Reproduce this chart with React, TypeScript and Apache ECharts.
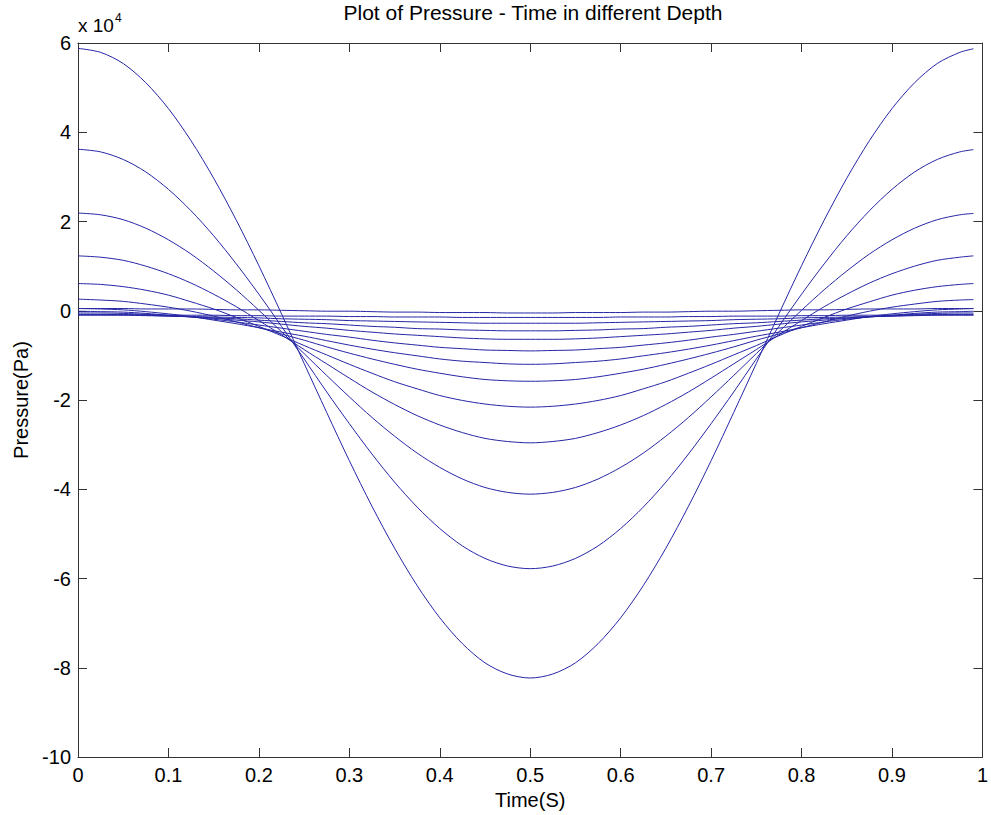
import React, { useEffect, useRef } from "react";
import * as echarts from "echarts";

// Time (s)
const TIME = [
  0, 0.025, 0.05, 0.075, 0.1, 0.125, 0.15, 0.175, 0.2, 0.225, 0.25, 0.275, 0.3, 0.325, 0.35, 0.375, 0.4, 0.425, 0.45, 0.475, 0.5,
  0.525, 0.55, 0.575, 0.6, 0.625, 0.65, 0.675, 0.7, 0.725, 0.75, 0.775, 0.8, 0.825, 0.85, 0.875, 0.9, 0.925, 0.95, 0.975, 0.99,
];

// Pressure in units of 1e4 Pa, one array per depth (shallow -> deep)
const P_DEPTH_1 = [
  5.88, 5.79, 5.54, 5.11, 4.53, 3.81, 2.97, 2.03, 1.01, -0.07, -1.18, -2.28, -3.36, -4.38, -5.32, -6.16, -6.88, -7.46, -7.89, -8.14, -8.23,
  -8.14, -7.89, -7.46, -6.88, -6.16, -5.32, -4.38, -3.36, -2.28, -1.18, -0.07, 1.01, 2.03, 2.97, 3.81, 4.53, 5.11, 5.54, 5.79, 5.87,
];
const P_DEPTH_2 = [
  3.62, 3.56, 3.39, 3.11, 2.72, 2.24, 1.68, 1.05, 0.37, -0.35, -1.08, -1.82, -2.53, -3.21, -3.84, -4.4, -4.88, -5.27, -5.55, -5.72, -5.78,
  -5.72, -5.55, -5.27, -4.88, -4.4, -3.84, -3.21, -2.53, -1.82, -1.08, -0.35, 0.37, 1.05, 1.68, 2.24, 2.72, 3.11, 3.39, 3.56, 3.61,
];
const P_DEPTH_3 = [
  2.19, 2.15, 2.04, 1.85, 1.59, 1.27, 0.89, 0.47, 0.01, -0.47, -0.96, -1.45, -1.93, -2.39, -2.81, -3.19, -3.51, -3.77, -3.96, -4.07, -4.11,
  -4.07, -3.96, -3.77, -3.51, -3.19, -2.81, -2.39, -1.93, -1.45, -0.96, -0.47, 0.01, 0.47, 0.89, 1.27, 1.59, 1.85, 2.04, 2.15, 2.18,
];
const P_DEPTH_4 = [
  1.23, 1.2, 1.13, 1.0, 0.83, 0.62, 0.37, 0.09, -0.22, -0.54, -0.87, -1.19, -1.51, -1.82, -2.1, -2.35, -2.56, -2.73, -2.86, -2.93, -2.96,
  -2.93, -2.86, -2.73, -2.56, -2.35, -2.1, -1.82, -1.51, -1.19, -0.87, -0.54, -0.22, 0.09, 0.37, 0.62, 0.83, 1.0, 1.13, 1.2, 1.23,
];
const P_DEPTH_5 = [
  0.61, 0.59, 0.54, 0.46, 0.35, 0.2, 0.04, -0.15, -0.35, -0.56, -0.78, -0.99, -1.2, -1.4, -1.59, -1.75, -1.9, -2.01, -2.09, -2.14, -2.16,
  -2.14, -2.09, -2.01, -1.9, -1.75, -1.59, -1.4, -1.2, -0.99, -0.78, -0.56, -0.35, -0.15, 0.04, 0.2, 0.35, 0.46, 0.54, 0.59, 0.61,
];
const P_DEPTH_6 = [
  0.26, 0.24, 0.21, 0.15, 0.08, -0.01, -0.12, -0.25, -0.38, -0.52, -0.66, -0.81, -0.95, -1.08, -1.2, -1.31, -1.4, -1.48, -1.54, -1.57, -1.58,
  -1.57, -1.54, -1.48, -1.4, -1.31, -1.2, -1.08, -0.95, -0.81, -0.66, -0.52, -0.38, -0.25, -0.12, -0.01, 0.08, 0.15, 0.21, 0.24, 0.25,
];
const P_DEPTH_7 = [
  0.05, 0.04, 0.02, -0.02, -0.07, -0.13, -0.21, -0.29, -0.38, -0.48, -0.57, -0.67, -0.77, -0.86, -0.94, -1.01, -1.08, -1.13, -1.16, -1.19, -1.2,
  -1.19, -1.16, -1.13, -1.08, -1.01, -0.94, -0.86, -0.77, -0.67, -0.57, -0.48, -0.38, -0.29, -0.21, -0.13, -0.07, -0.02, 0.02, 0.04, 0.05,
];
const P_DEPTH_8 = [
  -0.01, -0.02, -0.03, -0.06, -0.1, -0.14, -0.19, -0.25, -0.32, -0.39, -0.46, -0.53, -0.59, -0.66, -0.72, -0.77, -0.82, -0.85, -0.88, -0.89, -0.9,
  -0.89, -0.88, -0.85, -0.82, -0.77, -0.72, -0.66, -0.59, -0.53, -0.46, -0.39, -0.32, -0.25, -0.19, -0.14, -0.1, -0.06, -0.03, -0.02, -0.01,
];
const P_DEPTH_9 = [
  -0.05, -0.05, -0.06, -0.08, -0.11, -0.14, -0.17, -0.21, -0.25, -0.3, -0.35, -0.39, -0.44, -0.48, -0.52, -0.55, -0.58, -0.61, -0.63, -0.64, -0.64,
  -0.64, -0.63, -0.61, -0.58, -0.55, -0.52, -0.48, -0.44, -0.39, -0.35, -0.3, -0.25, -0.21, -0.17, -0.14, -0.11, -0.08, -0.06, -0.05, -0.05,
];
const P_DEPTH_10 = [
  -0.08, -0.08, -0.09, -0.1, -0.12, -0.13, -0.16, -0.18, -0.21, -0.24, -0.27, -0.29, -0.32, -0.35, -0.37, -0.4, -0.41, -0.43, -0.44, -0.45, -0.45,
  -0.45, -0.44, -0.43, -0.41, -0.4, -0.37, -0.35, -0.32, -0.29, -0.27, -0.24, -0.21, -0.18, -0.16, -0.13, -0.12, -0.1, -0.09, -0.08, -0.08,
];
const P_DEPTH_11 = [
  -0.1, -0.1, -0.1, -0.11, -0.12, -0.13, -0.14, -0.15, -0.16, -0.18, -0.19, -0.2, -0.22, -0.23, -0.24, -0.25, -0.26, -0.27, -0.28, -0.28, -0.28,
  -0.28, -0.28, -0.27, -0.26, -0.25, -0.24, -0.23, -0.22, -0.2, -0.19, -0.18, -0.16, -0.15, -0.14, -0.13, -0.12, -0.11, -0.1, -0.1, -0.1,
];
const P_DEPTH_12 = [
  -0.09, -0.09, -0.09, -0.09, -0.1, -0.1, -0.1, -0.11, -0.11, -0.12, -0.12, -0.12, -0.13, -0.13, -0.14, -0.14, -0.14, -0.15, -0.15, -0.15, -0.15,
  -0.15, -0.15, -0.15, -0.14, -0.14, -0.14, -0.13, -0.13, -0.12, -0.12, -0.12, -0.11, -0.11, -0.1, -0.1, -0.1, -0.09, -0.09, -0.09, -0.09,
];
const P_DEPTH_13 = [
  0.05, 0.05, 0.05, 0.04, 0.04, 0.04, 0.03, 0.02, 0.02, 0.01, 0.0, -0.01, -0.01, -0.02, -0.03, -0.03, -0.04, -0.04, -0.04, -0.05, -0.05,
  -0.05, -0.04, -0.04, -0.04, -0.03, -0.03, -0.02, -0.01, -0.01, 0.0, 0.01, 0.02, 0.02, 0.03, 0.04, 0.04, 0.04, 0.05, 0.05, 0.05,
];

const SERIES = [
  P_DEPTH_1, P_DEPTH_2, P_DEPTH_3, P_DEPTH_4, P_DEPTH_5, P_DEPTH_6, P_DEPTH_7,
  P_DEPTH_8, P_DEPTH_9, P_DEPTH_10, P_DEPTH_11, P_DEPTH_12, P_DEPTH_13,
];

const TITLE = "Plot of Pressure - Time in different Depth";
const X_NAME = "Time(S)";
const Y_NAME = "Pressure(Pa)";

const FONT = "'Liberation Sans', Arial, Helvetica, sans-serif";
const AXIS_COLOR = "#333333";
const LINE_COLOR = "#2626a6";

export default function App() {
  const ref = useRef<HTMLDivElement>(null);

  useEffect(() => {
    if (!ref.current) return;
    const chart = echarts.init(ref.current, null, { renderer: "svg" });

    const axisCommon = {
      axisLine: { show: true, onZero: false, lineStyle: { color: AXIS_COLOR, width: 1 } },
      axisTick: { show: true, inside: true, length: 9, lineStyle: { color: AXIS_COLOR } },
      splitLine: { show: false },
    };

    chart.setOption({
      animation: false,
      backgroundColor: "#ffffff",
      grid: { left: 78, right: 3, top: 43, bottom: 58, containLabel: false },
      graphic: [
        {
          type: "text",
          x: 533,
          y: 2,
          style: { text: TITLE, font: `21px ${FONT}`, fill: "#000", textAlign: "center" },
        },
        {
          type: "text",
          x: 78,
          y: 16,
          style: { text: "x 10", font: `19px ${FONT}`, fill: "#000" },
        },
        {
          type: "text",
          x: 115,
          y: 12,
          style: { text: "4", font: `12px ${FONT}`, fill: "#000" },
        },
      ],
      xAxis: [
        {
          type: "value",
          min: 0,
          max: 1,
          interval: 0.1,
          position: "bottom",
          name: X_NAME,
          nameLocation: "middle",
          nameGap: 32,
          nameTextStyle: { fontFamily: FONT, fontSize: 20, color: "#000" },
          axisLabel: { fontFamily: FONT, fontSize: 20, color: "#000", margin: 8 },
          ...axisCommon,
        },
        {
          type: "value",
          min: 0,
          max: 1,
          interval: 0.1,
          position: "top",
          axisLabel: { show: false },
          ...axisCommon,
        },
      ],
      yAxis: [
        {
          type: "value",
          min: -10,
          max: 6,
          interval: 2,
          position: "left",
          name: Y_NAME,
          nameLocation: "middle",
          nameGap: 47,
          nameRotate: 90,
          nameTextStyle: { fontFamily: FONT, fontSize: 20, color: "#000" },
          axisLabel: { fontFamily: FONT, fontSize: 20, color: "#000", margin: 7 },
          ...axisCommon,
        },
        {
          type: "value",
          min: -10,
          max: 6,
          interval: 2,
          position: "right",
          axisLabel: { show: false },
          ...axisCommon,
        },
      ],
      series: SERIES.map((vals, i) => ({
        name: `Depth ${i + 1}`,
        type: "line",
        xAxisIndex: 0,
        yAxisIndex: 0,
        data: TIME.map((t, j) => [t, vals[j]]),
        showSymbol: false,
        smooth: 0.3,
        lineStyle: { color: LINE_COLOR, width: 1 },
        itemStyle: { color: LINE_COLOR },
      })),
    });

    return () => chart.dispose();
  }, []);

  return (
    <div
      ref={ref}
      style={{ position: "absolute", left: 0, top: 0, width: 991, height: 815 }}
    />
  );
}
